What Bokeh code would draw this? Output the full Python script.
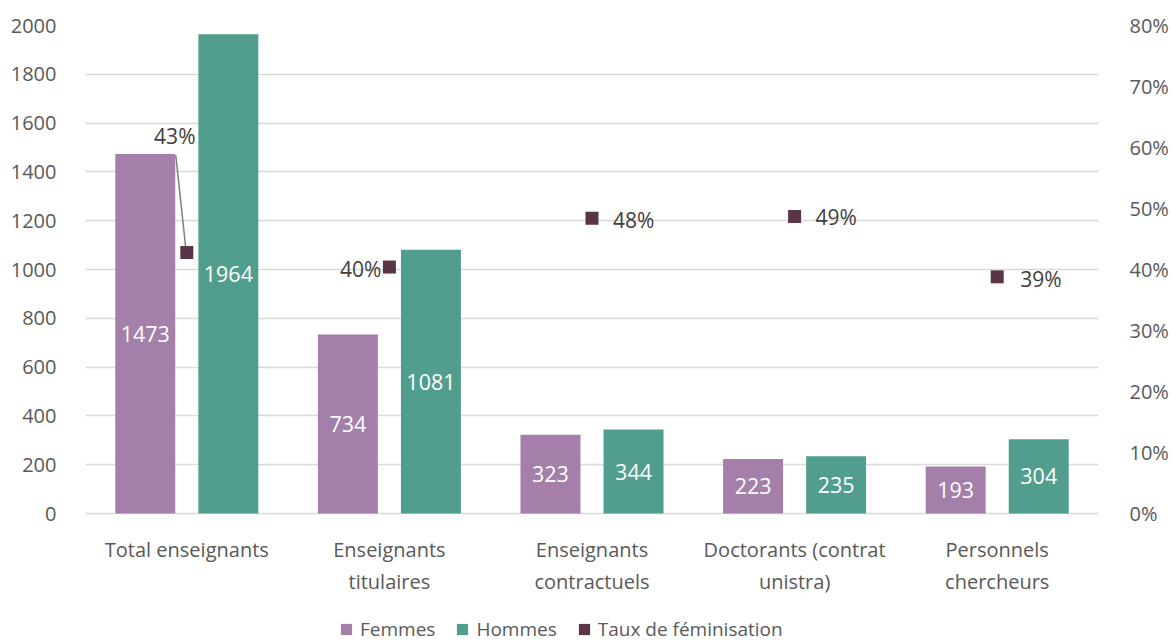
import numpy as np
from bokeh.plotting import figure
from bokeh.models import (Range1d, LinearAxis, FixedTicker, NumeralTickFormatter,
                          ColumnDataSource, Legend, LegendItem)
from bokeh.core.properties import value
from bokeh.embed import file_html
from bokeh.resources import INLINE

# ---- data ----
categories = ["Total enseignants", "Enseignants\ntitulaires", "Enseignants\ncontractuels",
              "Doctorants (contrat\nunistra)", "Personnels\nchercheurs"]
femmes = [1473, 734, 323, 223, 193]
hommes = [1964, 1081, 344, 235, 304]
taux = [0.428, 0.404, 0.484, 0.487, 0.388]
taux_labels = ["43%", "40%", "48%", "49%", "39%"]
left_ticks = [0, 200, 400, 600, 800, 1000, 1200, 1400, 1600, 1800, 2000]
right_ticks = [0, 0.1, 0.2, 0.3, 0.4, 0.5, 0.6, 0.7, 0.8]
YMAX = 2000
PMAX = 0.8

# ---- style / layout ----
FONT = "Open Sans"
C_F = "#A37FAA"
C_H = "#529E8E"
C_T = "#5A3448"
GRAY = "#595959"
DARK = "#404040"

W, H = 1173, 643
ML, MR, MT = 85, 75, 25
PLOT_H = 488           # pixel height of the 0..2000 value area
BELOW = H - MT - PLOT_H  # pixel space below the zero line (labels + legend)
FW = W - ML - MR

n = len(categories)
centers = np.arange(n) + 0.5

y_lo = -BELOW * YMAX / PLOT_H
p_lo = -BELOW * PMAX / PLOT_H

p = figure(width=W, height=H, output_backend="svg", toolbar_location=None,
           x_range=Range1d(0, n), y_range=Range1d(y_lo, YMAX),
           x_axis_location=None,
           min_border_left=ML, min_border_right=MR, min_border_top=MT, min_border_bottom=0)
p.outline_line_color = None
p.background_fill_color = "white"
p.border_fill_color = "white"
p.extra_y_ranges = {"pct": Range1d(p_lo, PMAX)}

bw = 0.296
off = 0.205
src = ColumnDataSource(dict(
    xf=centers - off, xh=centers + off, f=femmes, h=hommes,
    fm=[v / 2 for v in femmes], hm=[v / 2 for v in hommes],
    fl=[str(v) for v in femmes], hl=[str(v) for v in hommes],
    xc=centers, t=taux, tl=taux_labels, zero=[0] * n,
))

p.ygrid.grid_line_color = "#D9D9D9"
p.ygrid.grid_line_width = 1.5
p.xgrid.visible = False

rf = p.vbar(x="xf", top="f", width=bw, source=src, fill_color=C_F, line_color=None)
rh = p.vbar(x="xh", top="h", width=bw, source=src, fill_color=C_H, line_color=None)

p.text(x="xf", y="fm", text="fl", source=src, text_color="white", text_font=value(FONT),
       text_font_size="21.5px", text_align="center", text_baseline="middle")
p.text(x="xh", y="hm", text="hl", source=src, text_color="white", text_font=value(FONT),
       text_font_size="21.5px", text_align="center", text_baseline="middle")

# leader line for the first label (pixel offsets converted to data units)
pxx = FW / n
pxy = PLOT_H / PMAX
lx0 = centers[0] + (-11) / pxx
ly0 = taux[0] + 97 / pxy
lx1 = centers[0] + (-1) / pxx
ly1 = taux[0] + 4 / pxy
p.segment(x0=[lx0], y0=[ly0], x1=[lx1], y1=[ly1], y_range_name="pct",
          line_color="#808080", line_width=1.5)

rt = p.scatter(x="xc", y="t", source=src, marker="square", size=13, fill_color=C_T,
               line_color=None, y_range_name="pct")
# zero-height bars, only used to give the marker series a square legend swatch
rt_leg = p.vbar(x="xc", top="zero", bottom="zero", width=0, source=src,
                fill_color=C_T, line_color=None)

dxs = [-12, -8, 21, 21, 23]
dys = [-116, 2, 2, 1, 2]
aligns = ["center", "right", "left", "left", "left"]
for i in range(n):
    p.text(x=[centers[i]], y=[taux[i]], text=[taux_labels[i]], y_range_name="pct",
           x_offset=dxs[i], y_offset=dys[i], text_align=aligns[i], text_baseline="middle",
           text_color=DARK, text_font=value(FONT), text_font_size="21px")

# category labels under the zero line
p.text(x=list(centers), y=[0] * n, text=categories, y_offset=22,
       text_align="center", text_baseline="top", text_line_height=1.2,
       text_color=GRAY, text_font=value(FONT), text_font_size="20px")

# axes
p.yaxis.ticker = FixedTicker(ticks=left_ticks)
ax = p.yaxis[0]
ax.axis_line_color = None
ax.major_tick_line_color = None
ax.minor_tick_line_color = None
ax.major_label_text_font = FONT
ax.major_label_text_color = GRAY
ax.major_label_text_font_size = "20px"
ax.major_label_standoff = 23

ra = LinearAxis(y_range_name="pct", ticker=FixedTicker(ticks=right_ticks),
                formatter=NumeralTickFormatter(format="0%"))
ra.axis_line_color = None
ra.major_tick_line_color = None
ra.minor_tick_line_color = None
ra.major_label_text_font = FONT
ra.major_label_text_color = GRAY
ra.major_label_text_font_size = "20px"
ra.major_label_standoff = 25
p.add_layout(ra, "right")

legend = Legend(items=[LegendItem(label="Femmes", renderers=[rf]),
                       LegendItem(label="Hommes", renderers=[rh]),
                       LegendItem(label="Taux de féminisation", renderers=[rt_leg])],
                orientation="horizontal", location=(254, 1),
                label_text_font=FONT, label_text_font_size="19px", label_text_color=GRAY,
                glyph_width=14, glyph_height=14, label_standoff=7, spacing=20,
                padding=0, margin=0, border_line_color=None, background_fill_alpha=0)
p.add_layout(legend, "center")

open("out.html", "w").write(file_html(p, INLINE))
